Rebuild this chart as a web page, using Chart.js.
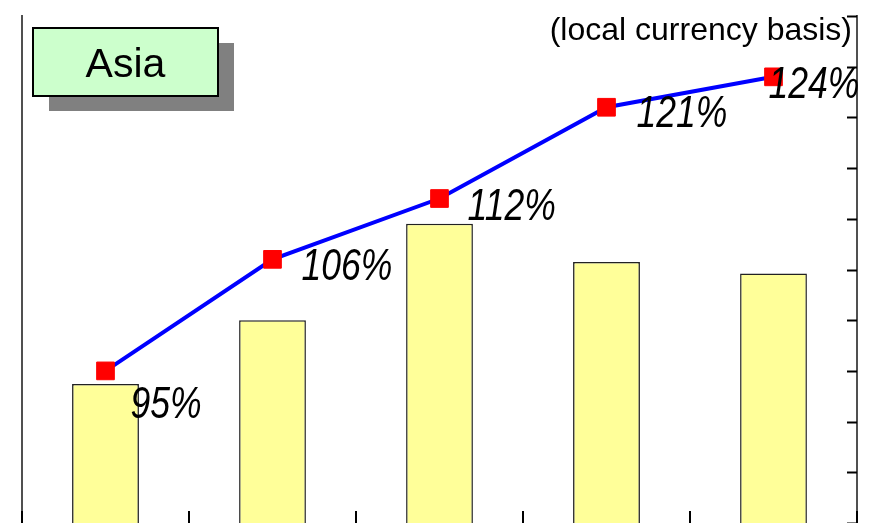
<!DOCTYPE html>
<html>
<head>
<meta charset="utf-8">
<script src="https://cdn.jsdelivr.net/npm/chart.js@4/dist/chart.umd.min.js"></script>
<style>
  html, body { margin: 0; padding: 0; background: #ffffff; overflow: hidden; }
  #wrap { position: relative; width: 872px; height: 523px; }
</style>
</head>
<body>
<div id="wrap"><canvas id="chart"></canvas></div>
<script>
// Periods (not labelled on the axis)
const categories = ['P1', 'P2', 'P3', 'P4', 'P5'];
// Bar series, left axis (index units)
const barValues = [27.4, 40.0, 59.0, 51.5, 49.2];
// Line series, right axis (% growth, local currency basis)
const growthPct = [95, 106, 112, 121, 124];
// Right axis range and step
const rightAxisMin = 80;
const rightAxisMax = 130;
const rightAxisStep = 5;

const panelTitle = 'Asia';
const basisNote = '(local currency basis)';

// Placement of each percentage label relative to its marker (dx, dy in px)
const labelNudge = [[25, 47], [29, 21], [28, 21], [30, 20], [-5, 21]];

const decorations = {
  id: 'decorations',
  afterDraw(chart) {
    const ctx = chart.ctx;
    const xs = chart.scales.x;
    const y2 = chart.scales.y2;
    const area = chart.chartArea;
    ctx.save();

    // inward tick marks between categories
    ctx.strokeStyle = '#000000';
    ctx.lineWidth = 2;
    for (let i = 0; i <= categories.length; i++) {
      const px = Math.round(xs.getPixelForValue(i - 0.5));
      ctx.beginPath();
      ctx.moveTo(px, area.bottom - 12);
      ctx.lineTo(px, area.bottom);
      ctx.stroke();
    }
    // inward tick marks on the right axis
    y2.ticks.forEach(t => {
      const py = Math.round(y2.getPixelForValue(t.value)) + 0.5;
      ctx.beginPath();
      ctx.moveTo(area.right - 10, py);
      ctx.lineTo(area.right, py);
      ctx.stroke();
    });

    // title panel with drop shadow
    ctx.fillStyle = '#808080';
    ctx.fillRect(49, 43, 185, 68);
    ctx.fillStyle = '#CCFFCC';
    ctx.fillRect(33, 28, 185, 68);
    ctx.strokeStyle = '#000000';
    ctx.lineWidth = 2;
    ctx.strokeRect(33, 28, 185, 68);
    ctx.fillStyle = '#000000';
    ctx.font = '41px "Liberation Sans", Arial, sans-serif';
    ctx.textAlign = 'center';
    ctx.textBaseline = 'alphabetic';
    ctx.fillText(panelTitle, 125.5, 77);

    // basis note
    ctx.font = '32px "Liberation Sans", Arial, sans-serif';
    ctx.textAlign = 'right';
    ctx.fillText(basisNote, 852, 40);

    // percentage labels beside the line markers
    const meta = chart.getDatasetMeta(1);
    ctx.textAlign = 'left';
    ctx.font = 'italic 45px "Liberation Sans", Arial, sans-serif';
    meta.data.forEach((pt, i) => {
      const [dx, dy] = labelNudge[i];
      ctx.save();
      ctx.translate(pt.x + dx, pt.y + dy);
      ctx.scale(0.79, 1);
      ctx.fillText(growthPct[i] + '%', 0, 0);
      ctx.restore();
    });

    ctx.restore();
  }
};

new Chart(document.getElementById('chart'), {
  type: 'bar',
  data: {
    labels: categories,
    datasets: [
      {
        type: 'bar',
        data: barValues,
        yAxisID: 'y',
        backgroundColor: '#FFFF99',
        borderColor: '#222222',
        borderWidth: 1.5,
        barPercentage: 0.4,
        categoryPercentage: 1.0,
        order: 2
      },
      {
        type: 'line',
        data: growthPct,
        yAxisID: 'y2',
        borderColor: '#0000FF',
        borderWidth: 4,
        pointStyle: 'rect',
        pointRadius: 12.5,
        pointBackgroundColor: '#FF0000',
        pointBorderColor: '#FF0000',
        pointBorderWidth: 1,
        tension: 0,
        clip: false,
        order: 1
      }
    ]
  },
  options: {
    responsive: true,
    maintainAspectRatio: false,
    animation: false,
    devicePixelRatio: 1,
    layout: { autoPadding: false, padding: { left: 22, top: 16, right: 15, bottom: 0 } },
    plugins: {
      legend: { display: false },
      tooltip: { enabled: false },
      title: { display: false }
    },
    scales: {
      x: {
        display: true,
        offset: true,
        grid: { display: false, drawTicks: false },
        border: { display: false },
        ticks: { display: false }
      },
      y: {
        position: 'left',
        min: 0,
        max: 100,
        grid: { display: false, drawTicks: false },
        border: { display: true, color: '#505050', width: 2 },
        ticks: { display: false }
      },
      y2: {
        position: 'right',
        min: rightAxisMin,
        max: rightAxisMax,
        ticks: { display: false, stepSize: rightAxisStep },
        grid: { display: false, drawTicks: false },
        border: { display: true, color: '#505050', width: 2 }
      }
    }
  },
  plugins: [decorations]
});
</script>
</body>
</html>
